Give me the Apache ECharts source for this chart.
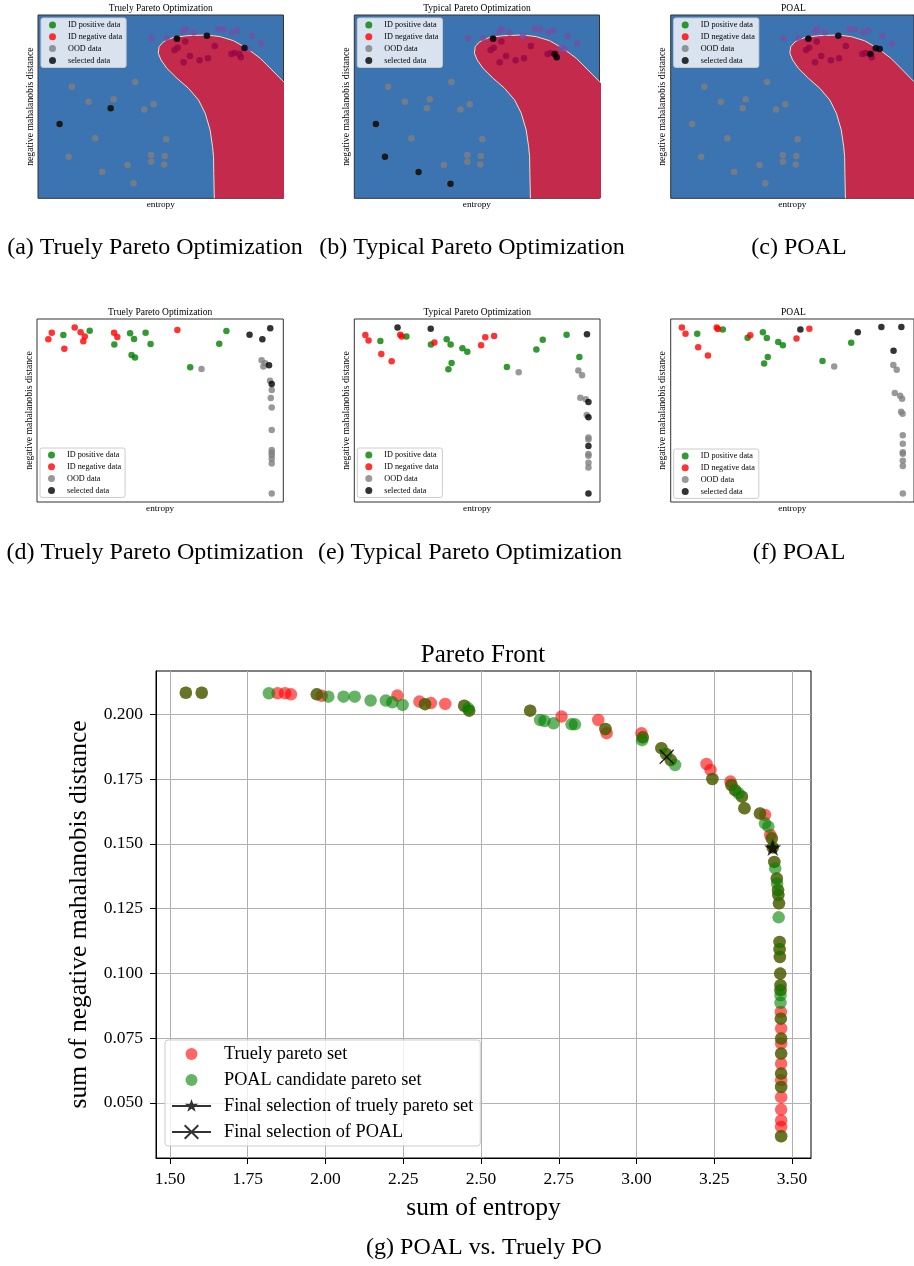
<!DOCTYPE html>
<html>
<head>
<meta charset="utf-8">
<title>Pareto front comparison</title>
<script src="https://cdn.jsdelivr.net/npm/echarts@6/dist/echarts.min.js"></script>
<style>
  body { margin: 0; background: #fff; }
  #main { width: 914px; height: 1266px; }
</style>
</head>
<body>
<div id="main"></div>
<script>
// ---- top row (a)(b)(c): same points, only the selection differs (axes 0..100) ----
var topPos = [];
var topOod = [[13.8,60.9],[20.6,52.7],[30.8,54.0],[29.6,49.1],[39.6,63.5],[43.3,48.5],[47.1,51.3],
  [23.3,32.7],[52.2,32.2],[12.5,22.7],[26.1,14.5],[36.5,18.2],[46.1,23.6],[46.1,20.0],[51.6,23.1],
  [51.4,18.5],[38.9,8.2],[8.8,40.5]];
// negative points lying in the blue area (drawn purple) and in the red area (drawn maroon)
var topNegOut = [[46.4,87.3],[52.5,87.5],[59.3,90.9],[60.1,92.4],[63.4,90.5],[68.8,88.7],[73.5,92.4],
  [75.7,92.2],[79.1,90.5],[81.1,91.5],[87.1,88.5],[90.9,84.4],[84.4,81.8],[85.6,81.5]];
var topNegIn = [[55.6,80.9],[56.9,82.2],[60.0,85.5],[59.3,74.2],[61.9,77.6],[65.8,75.3],[69.2,76.4],
  [72.0,83.1],[78.8,78.7],[80.1,79.3],[82.0,78.7],[82.6,76.9],[56.6,87.1]];
var topSelA = [[56.6,87.1],[68.8,88.7],[84.1,82.0],[8.8,40.5],[29.6,49.1]];
var topSelB = [[56.6,87.1],[81.7,78.7],[82.5,76.9],[8.8,40.5],[12.5,22.7],[26.2,14.4],[39.2,8.0]];
var topSelC = [[56.6,87.1],[68.9,88.7],[84.3,81.8],[85.9,81.5],[82.1,78.7]];
// outline of the red decision region
var regionEdge = [[71.9,-5],[71.6,13.6],[71.5,22.7],[71.1,28.2],[70.1,37.3],[68.1,46.4],[65.4,53.6],
  [61.3,60.0],[56.6,65.5],[52.5,70.9],[50.1,75.5],[49.0,79.1],[49.3,82.7],[51.2,85.5],[55.2,87.8],
  [60.7,88.7],[68.8,89.1],[74.2,88.2],[79.6,86.0],[85.1,81.8],[90.5,76.4],[95.3,70.0],[100,63.6],
  [105,58],[105,-5]];

// ---- middle row (d)(e)(f) ----
var midPosD = [[10.7,91.3],[21.4,93.6],[31.4,86.0],[37.8,92.2],[39.4,89.1],[38.4,80.3],[39.8,78.9],
  [44.1,92.5],[46.1,86.3],[62.2,73.6],[74.0,86.5],[76.9,93.4]];
var midNegD = [[4.6,88.9],[6.0,92.5],[11.1,83.8],[15.3,95.4],[17.7,92.7],[18.8,87.8],[19.4,90.5],
  [31.3,92.5],[32.6,90.2],[57.0,94.0]];
var midOodD = [[66.8,72.7],[91.2,77.4],[92.6,75.8],[91.9,74.0],[94.6,66.3],[95.3,61.2],[94.9,56.8],
  [95.3,51.7],[95.3,39.3],[95.3,28.4],[95.3,27.0],[95.3,25.5],[95.3,23.5],[95.3,21.1],[95.3,4.7]];
var midSelD = [[86.3,91.4],[91.5,88.9],[94.7,94.9],[94.2,74.7],[95.3,64.5]];

var midPosE = [[10.6,88.0],[21.2,90.5],[31.2,86.0],[37.6,88.9],[39.2,86.0],[44.0,84.0],[46.0,82.1],
  [38.3,72.5],[39.6,76.0],[62.1,73.8],[74.1,83.4],[76.7,88.7],[86.4,91.4],[91.6,79.2]];
var midNegE = [[4.5,91.3],[5.8,88.2],[11.0,80.9],[15.2,76.9],[18.7,91.4],[19.3,90.5],[32.6,87.2],
  [51.6,85.6],[53.3,90.0],[56.9,90.7]];
var midOodE = [[66.9,70.9],[91.2,71.8],[92.7,69.2],[92.0,57.0],[94.2,56.1],[94.6,47.5],[95.3,35.3],
  [95.3,34.2],[95.3,26.2],[95.3,25.3],[95.3,21.5],[95.3,18.9]];
var midSelE = [[17.6,95.4],[31.1,94.7],[94.7,91.6],[95.3,54.6],[95.3,46.3],[95.3,30.6],[95.3,4.7]];

var midPosF = [[10.9,92.0],[21.4,94.3],[31.6,89.8],[37.9,92.7],[39.5,89.6],[44.2,87.4],[46.1,85.6],
  [38.4,75.7],[39.9,79.2],[62.4,77.0],[74.2,87.0]];
var midNegF = [[4.6,95.3],[6.1,92.0],[11.3,84.5],[15.3,80.1],[18.9,95.3],[19.4,94.5],[32.7,91.1],
  [51.7,89.4],[57.0,94.7]];
var midOodF = [[67.2,74.1],[91.5,74.8],[92.9,72.3],[92.1,59.5],[94.3,58.0],[95.1,56.4],[94.7,49.3],
  [95.3,48.2],[95.4,36.5],[95.4,31.8],[95.4,27.2],[95.4,26.3],[95.4,22.6],[95.4,19.7],[95.4,4.7]];
var midSelF = [[53.3,94.2],[76.9,92.7],[86.6,95.6],[94.8,95.6],[91.6,82.7]];

// ---- bottom (g): Pareto front ----
var truelySet = [[1.551,0.2083],[1.602,0.2083],[1.846,0.2081],[1.870,0.2081],[1.889,0.2077],[1.972,0.2077],
  [1.988,0.2071],[2.231,0.2072],[2.302,0.2049],[2.320,0.2039],[2.339,0.2043],[2.385,0.2040],[2.446,0.2033],
  [2.462,0.2014],[2.658,0.2014],[2.759,0.1991],[2.877,0.1978],[2.900,0.1943],[2.904,0.1927],[3.016,0.1927],
  [3.020,0.1911],[3.080,0.1869],[3.095,0.1847],[3.110,0.1823],[3.225,0.1808],[3.238,0.1785],[3.244,0.1750],
  [3.302,0.1740],[3.305,0.1727],[3.317,0.1707],[3.339,0.1682],[3.347,0.1637],[3.397,0.1617],[3.413,0.1611],
  [3.430,0.1534],[3.435,0.1521],[3.438,0.1486],[3.443,0.1430],[3.451,0.1366],[3.455,0.1321],[3.456,0.1302],
  [3.458,0.1270],[3.460,0.1121],[3.460,0.1093],[3.461,0.1063],[3.462,0.0999],[3.463,0.0954],[3.463,0.0935],
  [3.464,0.0851],[3.464,0.0825],[3.465,0.0787],[3.465,0.0748],[3.465,0.0729],[3.465,0.0690],[3.465,0.0651],
  [3.465,0.0613],[3.465,0.0587],[3.465,0.0561],[3.465,0.0522],[3.465,0.0474],[3.465,0.0432],[3.465,0.0407],
  [3.465,0.0371]];
var poalSet = [[1.551,0.2083],[1.602,0.2083],[1.818,0.2081],[1.972,0.2077],[2.009,0.2068],[2.058,0.2068],
  [2.094,0.2068],[2.145,0.2053],[2.194,0.2053],[2.215,0.2046],[2.248,0.2036],[2.320,0.2039],[2.446,0.2033],
  [2.459,0.2023],[2.462,0.2014],[2.658,0.2014],[2.690,0.1978],[2.704,0.1974],[2.733,0.1965],[2.791,0.1961],
  [2.802,0.1961],[2.900,0.1943],[3.020,0.1911],[3.018,0.1900],[3.080,0.1869],[3.095,0.1847],[3.110,0.1823],
  [3.124,0.1804],[3.244,0.1750],[3.305,0.1727],[3.317,0.1707],[3.328,0.1695],[3.339,0.1682],[3.347,0.1637],
  [3.397,0.1617],[3.413,0.1579],[3.424,0.1566],[3.435,0.1521],[3.438,0.1486],[3.443,0.1430],[3.446,0.1405],
  [3.451,0.1366],[3.452,0.1347],[3.455,0.1321],[3.456,0.1302],[3.458,0.1270],[3.457,0.1216],[3.460,0.1121],
  [3.460,0.1093],[3.461,0.1063],[3.462,0.0999],[3.463,0.0954],[3.463,0.0935],[3.463,0.0915],[3.463,0.0886],
  [3.464,0.0825],[3.465,0.0748],[3.465,0.0690],[3.465,0.0613],[3.465,0.0561],[3.465,0.0371]];
var finalTruely = [[3.438,0.1486]];
var finalPoal = [[3.097,0.1836]];
var xTicks = [1.50,1.75,2.00,2.25,2.50,2.75,3.00,3.25,3.50];
var yTicks = [0.050,0.075,0.100,0.125,0.150,0.175,0.200];

var SERIF = '"Liberation Serif", "DejaVu Serif", "Times New Roman", serif';
var STAR_SHAPE = 'M39,2 L42.29,11.47 L52.32,11.67 L44.33,17.73 L47.23,27.33 L39,21.6 L30.77,27.33 L33.67,17.73 L25.68,11.67 L35.71,11.47 Z';
var STAR = 'path://' + STAR_SHAPE;
var CROSS = 'path://M0,1.4 L1.4,0 L20,18.6 L18.6,20 Z M18.6,0 L20,1.4 L1.4,20 L0,18.6 Z';
// legend icons share one 78x32 box (the two bare moves fix the box)
var BOX = 'M0,0 M78,32 ';
var LINE = 'M0,14 L78,14 L78,18 L0,18 Z ';
var DOT_ICON = 'path://' + BOX + 'M27,16 A12,12 0 1,0 51,16 A12,12 0 1,0 27,16 Z';
var STAR_ICON = 'path://' + BOX + LINE + STAR_SHAPE;
var CROSS_ICON = 'path://' + BOX + LINE +
  'M24,3.8 L26.8,1 L54,28.2 L51.2,31 Z M51.2,1 L54,3.8 L26.8,31 L24,28.2 Z';

var chart = echarts.init(document.getElementById('main'), null, { renderer: 'canvas' });

var panels = [
  { left: 38, top: 15, width: 245.5, height: 183.3, title: 'Truely Pareto Optimization', bg: '#3c74b1', legendTop: 18 },
  { left: 354.3, top: 15, width: 245.2, height: 183.3, title: 'Typical Pareto Optimization', bg: '#3c74b1', legendTop: 18 },
  { left: 670.7, top: 15, width: 245.5, height: 183.3, title: 'POAL', bg: '#3c74b1', legendTop: 18 },
  { left: 37, top: 319, width: 246.3, height: 183, title: 'Truely Pareto Optimization', bg: 'transparent', legendTop: 448 },
  { left: 354.3, top: 319, width: 245.7, height: 183, title: 'Typical Pareto Optimization', bg: 'transparent', legendTop: 448 },
  { left: 670.7, top: 319, width: 245.5, height: 183, title: 'POAL', bg: 'transparent', legendTop: 449 }
];

var grids = [], xAxes = [], yAxes = [], titles = [], legends = [], series = [];

panels.forEach(function (p, i) {
  grids.push({ left: p.left, top: p.top, width: p.width, height: p.height, show: true,
    backgroundColor: p.bg, borderColor: '#333', borderWidth: 1, containLabel: false });
  xAxes.push({ gridIndex: i, type: 'value', min: 0, max: 100, name: 'entropy', nameLocation: 'middle', nameGap: 2,
    nameTextStyle: { fontFamily: SERIF, fontSize: 9.2, color: '#000' },
    axisLine: { show: false }, axisTick: { show: false }, axisLabel: { show: false }, splitLine: { show: false } });
  yAxes.push({ gridIndex: i, type: 'value', min: 0, max: 100, name: 'negative mahalanobis distance',
    nameLocation: 'middle', nameGap: 3,
    nameTextStyle: { fontFamily: SERIF, fontSize: 9.7, color: '#000' },
    axisLine: { show: false }, axisTick: { show: false }, axisLabel: { show: false }, splitLine: { show: false } });
  titles.push({ text: p.title, left: p.left + p.width / 2, top: p.top - 12, textAlign: 'center', padding: 0,
    textStyle: { fontFamily: SERIF, fontSize: 9.5, fontWeight: 'normal', color: '#000' } });
  legends.push({ orient: 'vertical', left: p.left + 3, top: p.legendTop, padding: [3, 4, 3, 8], itemGap: 3.8,
    itemWidth: 7, itemHeight: 7, backgroundColor: 'rgba(255,255,255,0.8)', borderColor: '#cccccc',
    borderWidth: 1, borderRadius: 2, selectedMode: false,
    textStyle: { fontFamily: SERIF, fontSize: 8.2, color: '#000', padding: [0, 0, 0, 7] },
    data: [
      { name: 'ID positive data', icon: 'circle', itemStyle: { color: 'green' } },
      { name: 'ID negative data', icon: 'circle', itemStyle: { color: 'red' } },
      { name: 'OOD data', icon: 'circle', itemStyle: { color: 'grey' } },
      { name: 'selected data', icon: 'circle', itemStyle: { color: 'black' } }
    ] });
});

function dots(name, data, color, gi, size, z) {
  return { type: 'scatter', name: name, data: data, xAxisIndex: gi, yAxisIndex: gi, symbolSize: size,
    itemStyle: { color: color }, z: z, silent: true, animation: false };
}

function regionItem(params, api) {
  var pts = regionEdge.map(function (p) { return api.coord(p); });
  return { type: 'polygon', shape: { points: pts },
    style: { fill: '#c42a4b', stroke: '#e8e2cc', lineWidth: 1 } };
}

[topSelA, topSelB, topSelC].forEach(function (sel, i) {
  series.push({ type: 'custom', name: 'region', xAxisIndex: i, yAxisIndex: i, data: [[0, 0]],
    renderItem: regionItem, clip: true, silent: true, z: 1 });
  series.push(dots('ID positive data', topPos, 'green', i, 6.5, 2));
  series.push(dots('OOD data', topOod, 'grey', i, 6.5, 2));
  series.push(dots('ID negative data', topNegOut, '#7350a5', i, 6.5, 2));
  series.push(dots('ID negative data', topNegIn, '#960845', i, 6.5, 2));
  series.push(dots('selected data', sel, 'black', i, 6.5, 3));
});

[[midPosD, midNegD, midOodD, midSelD], [midPosE, midNegE, midOodE, midSelE], [midPosF, midNegF, midOodF, midSelF]]
  .forEach(function (set, k) {
    var gi = k + 3;
    series.push(dots('ID positive data', set[0], 'green', gi, 6.5, 2));
    series.push(dots('ID negative data', set[1], 'red', gi, 6.5, 2));
    series.push(dots('OOD data', set[2], 'grey', gi, 6.5, 2));
    series.push(dots('selected data', set[3], 'black', gi, 6.5, 3));
  });

// captions and the big title
[['(a) Truely Pareto Optimization', 155, 236, 24], ['(b) Typical Pareto Optimization', 472, 236, 24],
 ['(c) POAL', 799, 236, 24], ['(d) Truely Pareto Optimization', 155, 541, 24],
 ['(e) Typical Pareto Optimization', 470, 541, 24], ['(f) POAL', 799, 541, 24],
 ['(g) POAL vs. Truely PO', 484, 1235.5, 24], ['Pareto Front', 483, 643, 25]].forEach(function (c) {
  titles.push({ text: c[0], left: c[1], top: c[2], textAlign: 'center', padding: 0,
    textStyle: { fontFamily: SERIF, fontSize: c[3], fontWeight: 'normal', color: '#000' } });
});

// bottom Pareto-front panel
grids.push({ left: 156, top: 671, width: 655, height: 487, show: true, backgroundColor: '#fff',
  borderColor: '#000', borderWidth: 1 });
xAxes.push({ gridIndex: 6, type: 'value', min: 1.455, max: 3.561, name: 'sum of entropy', nameLocation: 'middle',
  nameGap: 37.5, nameTextStyle: { fontFamily: SERIF, fontSize: 25.5, color: '#000' },
  axisLine: { show: true, onZero: false, lineStyle: { color: '#000', width: 1 } },
  axisTick: { show: true, length: 6, customValues: xTicks, lineStyle: { color: '#000' } },
  axisLabel: { customValues: xTicks, margin: 12, fontFamily: SERIF, fontSize: 17.5, color: '#000',
    formatter: function (v) { return v.toFixed(2); } },
  splitLine: { show: true, lineStyle: { color: '#b0b0b0', width: 1 } } });
yAxes.push({ gridIndex: 6, type: 'value', min: 0.0287, max: 0.2167, name: 'sum of negative mahalanobis distance',
  nameLocation: 'middle', nameGap: 62, nameTextStyle: { fontFamily: SERIF, fontSize: 25.5, color: '#000' },
  axisLine: { show: true, onZero: false, lineStyle: { color: '#000', width: 1 } },
  axisTick: { show: true, length: 6, customValues: yTicks, lineStyle: { color: '#000' } },
  axisLabel: { customValues: yTicks, margin: 13, fontFamily: SERIF, fontSize: 17.5, color: '#000',
    formatter: function (v) { return v.toFixed(3); } },
  splitLine: { show: true, lineStyle: { color: '#b0b0b0', width: 1 } } });

series.push({ type: 'scatter', name: 'Truely pareto set', data: truelySet, xAxisIndex: 6, yAxisIndex: 6,
  symbolSize: 12.5, itemStyle: { color: 'red', opacity: 0.6 }, z: 2, silent: true, animation: false });
series.push({ type: 'scatter', name: 'POAL candidate pareto set', data: poalSet, xAxisIndex: 6, yAxisIndex: 6,
  symbolSize: 12.5, itemStyle: { color: 'green', opacity: 0.6 }, z: 3, silent: true, animation: false });
series.push({ type: 'scatter', name: 'Final selection of truely pareto set', data: finalTruely, xAxisIndex: 6,
  yAxisIndex: 6, symbol: STAR, symbolSize: 17, itemStyle: { color: '#000' }, z: 4, silent: true, animation: false });
series.push({ type: 'scatter', name: 'Final selection of POAL', data: finalPoal, xAxisIndex: 6, yAxisIndex: 6,
  symbol: CROSS, symbolSize: 15, itemStyle: { color: '#000' }, z: 4, silent: true, animation: false });

legends.push({ orient: 'vertical', left: 165, top: 1040, padding: [5, 7, 5, 7], itemGap: 8,
  itemWidth: 39, itemHeight: 16, backgroundColor: 'rgba(255,255,255,0.8)', borderColor: '#cccccc',
  borderWidth: 1, borderRadius: 3, selectedMode: false,
  textStyle: { fontFamily: SERIF, fontSize: 18.3, color: '#000', padding: [0, 0, 0, 8] },
  data: [
    { name: 'Truely pareto set', icon: DOT_ICON, itemStyle: { color: 'red', opacity: 0.6 } },
    { name: 'POAL candidate pareto set', icon: DOT_ICON, itemStyle: { color: 'green', opacity: 0.6 } },
    { name: 'Final selection of truely pareto set', icon: STAR_ICON, itemStyle: { color: '#000' } },
    { name: 'Final selection of POAL', icon: CROSS_ICON, itemStyle: { color: '#000' } }
  ] });

chart.setOption({
  animation: false,
  backgroundColor: '#fff',
  title: titles,
  grid: grids,
  xAxis: xAxes,
  yAxis: yAxes,
  legend: legends,
  series: series
});
</script>
</body>
</html>
